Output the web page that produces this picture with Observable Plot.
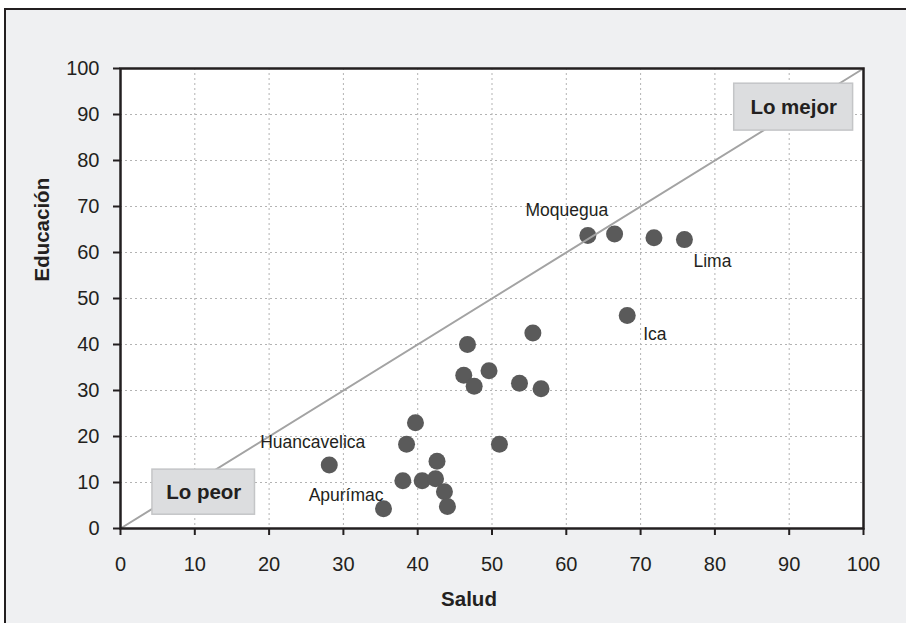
<!DOCTYPE html>
<html>
<head>
<meta charset="utf-8">
<script src="https://cdn.jsdelivr.net/npm/d3@7"></script>
<script src="https://cdn.jsdelivr.net/npm/@observablehq/plot@0.6"></script>
<style>
  html, body { margin: 0; padding: 0; background: #ffffff; overflow: hidden; }
  #wrap { position: relative; width: 906px; height: 623px; overflow: hidden; }
  #panel { position: absolute; left: 4px; top: 8px; width: 940px; height: 660px;
           border: 2px solid #231f20; background: #eff0f2; box-sizing: border-box; }
  #chart { position: absolute; left: 0; top: 0; }
</style>
</head>
<body>
<div id="wrap"><div id="panel"></div><div id="chart"></div></div>
<script>
// Índice de Salud (x) e Índice de Educación (y) por región
const salud     = [28.1, 35.4, 38.5, 39.7, 38.0, 40.6, 42.4, 42.6, 43.6, 44.0, 46.7, 46.2, 47.6, 49.6, 51.0, 53.7, 55.5, 56.6, 62.9, 66.5, 71.8, 75.9, 68.2];
const educacion = [13.8, 4.3, 18.3, 23.0, 10.4, 10.4, 10.8, 14.6, 8.0, 4.8, 40.0, 33.3, 30.9, 34.3, 18.3, 31.6, 42.5, 30.4, 63.7, 64.0, 63.2, 62.8, 46.3];
const region    = ["Huancavelica", "Apurímac", "", "", "", "", "", "", "", "", "", "", "", "", "", "", "", "", "Moquegua", "", "", "Lima", "Ica"];
const ticks = [0, 10, 20, 30, 40, 50, 60, 70, 80, 90, 100];
const diagonal = [0, 100];
const cajas = ["Lo peor", "Lo mejor"];
const cajaX1 = [4.3, 82.6], cajaX2 = [18.1, 98.6];
const cajaY1 = [3.0, 86.5], cajaY2 = [12.8, 96.7];

const puntos = salud.map((s, i) => ({salud: s, educacion: educacion[i], region: region[i]}));
const anot = cajas.map((t, i) => ({t, x1: cajaX1[i], x2: cajaX2[i], y1: cajaY1[i], y2: cajaY2[i]}));

const ink = "#231f20";
const labelFont = 17.5;
// Placement of each region label relative to its dot
const place = {
  "Moquegua":     {textAnchor: "middle", dx: -21, dy: -25},
  "Lima":         {textAnchor: "start",  dx: 9,   dy: 22},
  "Ica":          {textAnchor: "start",  dx: 16,  dy: 19},
  "Huancavelica": {textAnchor: "end",    dx: 36,  dy: -23},
  "Apurímac":     {textAnchor: "end",    dx: 0,   dy: -13}
};

const chart = Plot.plot({
  width: 906, height: 623,
  marginLeft: 120, marginRight: 43, marginTop: 68, marginBottom: 95,
  x: {domain: [0, 100], ticks, label: null},
  y: {domain: [0, 100], ticks, label: null},
  style: {background: "transparent", fontFamily: "'Liberation Sans', Arial, sans-serif", color: ink, overflow: "visible"},
  marks: [
    Plot.frame({fill: "white", stroke: null}),
    Plot.gridX(ticks, {stroke: "#b3b3b3", strokeOpacity: 1, strokeDasharray: "2,3"}),
    Plot.gridY(ticks, {stroke: "#b3b3b3", strokeOpacity: 1, strokeDasharray: "2,3"}),
    Plot.dot(puntos, {x: "salud", y: "educacion", r: 8.5, fill: "#5a5a5a", stroke: null}),
    Plot.line(diagonal, {x: d => d, y: d => d, stroke: "#a3a3a3", strokeWidth: 2}),
    Plot.rect(anot, {x1: "x1", x2: "x2", y1: "y1", y2: "y2", fill: "#dcdddf", stroke: "#c4c5c7", strokeWidth: 1.5}),
    Plot.text(anot, {x: d => (d.x1 + d.x2) / 2, y: d => (d.y1 + d.y2) / 2, text: "t", fontSize: 20.5, fontWeight: "bold", fill: ink}),
    ...Object.entries(place).map(([name, p]) =>
      Plot.text(puntos.filter(d => d.region === name), {x: "salud", y: "educacion", text: "region", fontSize: labelFont, fill: ink, ...p})
    ),
    Plot.frame({stroke: ink, strokeWidth: 2.5}),
    Plot.axisX(ticks, {tickSize: 7, tickPadding: 21, fontSize: 20, strokeWidth: 2, stroke: ink, label: null}),
    Plot.axisY(ticks, {tickSize: 7, tickPadding: 14, fontSize: 20, strokeWidth: 2, stroke: ink, label: null}),
    Plot.text(["Salud"], {frameAnchor: "bottom", dx: -23, dy: 77, fontSize: 20.5, fontWeight: "bold", fill: ink}),
    Plot.text(["Educación"], {frameAnchor: "left", dx: -78, dy: -17, rotate: -90, fontSize: 20.5, fontWeight: "bold", fill: ink})
  ]
});
document.getElementById("chart").appendChild(chart);
</script>
</body>
</html>
